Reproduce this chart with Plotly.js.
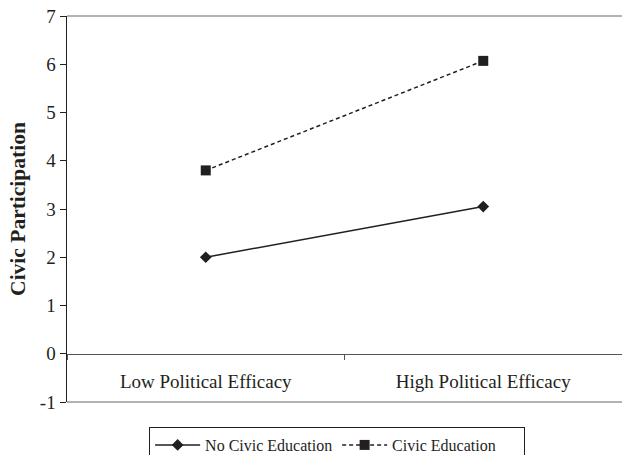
<!DOCTYPE html>
<html>
<head>
<meta charset="utf-8">
<script src="https://cdn.plot.ly/plotly-3.0.1.min.js"></script>
<style>html,body{margin:0;padding:0;background:#fff;}#chart{width:622px;height:455px;}</style>
</head>
<body>
<div id="chart"></div>
<script>
const categories = ["Low Political Efficacy", "High Political Efficacy"];
const noCivicEducation = [2.0, 3.05];
const civicEducation = [3.8, 6.07];
const yTicks = [-1, 0, 1, 2, 3, 4, 5, 6, 7];

const ink = "#231f20";
const fam = "Liberation Serif, Times New Roman, serif";

const traces = [
  {x: categories, y: noCivicEducation, name: "No Civic Education", type: "scatter", mode: "lines+markers",
   line: {color: ink, width: 1.5, dash: "solid"}, marker: {symbol: "diamond", size: 9, color: ink}},
  {x: categories, y: civicEducation, name: "Civic Education", type: "scatter", mode: "lines+markers",
   line: {color: ink, width: 1.5, dash: "4px,3px"}, marker: {symbol: "square", size: 10, color: ink}}
];

const layout = {
  width: 622, height: 455,
  margin: {l: 67, r: 0, t: 16, b: 53},
  paper_bgcolor: "#fff", plot_bgcolor: "#fff",
  font: {family: fam, size: 19, color: ink},
  showlegend: true,
  legend: {orientation: "h", xref: "container", yref: "container", x: 0.542, xanchor: "center", y: 0.0615, yanchor: "top",
           bordercolor: ink, borderwidth: 1, font: {family: fam, size: 16, color: ink},
           itemwidth: 45, entrywidth: 127, traceorder: "normal"},
  xaxis: {type: "category", range: [-0.5, 1.5], anchor: "free", position: 0.125,
          showline: true, linecolor: "#555", linewidth: 1.5, showgrid: false, zeroline: false,
          ticks: "outside", ticklen: 5, tickcolor: "#555", tickson: "boundaries",
          ticklabelstandoff: 10, tickfont: {family: fam, size: 19, color: ink}, fixedrange: true},
  yaxis: {range: [-1, 7], tickvals: yTicks, ticktext: yTicks.map(String),
          showline: true, linecolor: ink, linewidth: 1.5, showgrid: false, zeroline: false,
          ticks: "outside", ticklen: 6, tickcolor: ink,
          tickfont: {family: fam, size: 19, color: ink},
          title: {text: "<b>Civic Participation</b>", font: {family: fam, size: 21.5, color: ink}, standoff: 8}},
  shapes: [
    {type: "line", xref: "paper", yref: "paper", x0: 0, x1: 1, y0: 1, y1: 1, line: {color: "#9a9a9a", width: 1.5}},
    {type: "line", xref: "paper", yref: "paper", x0: 0, x1: 1, y0: 0, y1: 0, line: {color: "#9a9a9a", width: 1.5}}
  ]
};

Plotly.newPlot("chart", traces, layout, {displayModeBar: false, staticPlot: true});
</script>
</body>
</html>
